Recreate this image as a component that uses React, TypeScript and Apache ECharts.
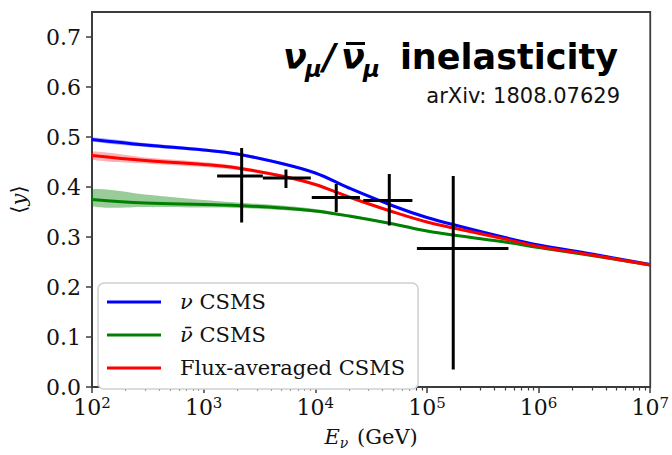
import { useEffect, useRef } from 'react';
import * as echarts from 'echarts';

// Neutrino energies (GeV) at which the CSMS predictions are sampled
const energies = [1e2, 3e2, 1e3, 2e3, 5e3, 1e4, 2e4, 5e4, 1e5, 2e5, 5e5, 1e6, 3e6, 1e7];

// ν CSMS mean inelasticity and its uncertainty band
const nuMean = [0.495, 0.484, 0.474, 0.466, 0.447, 0.428, 0.398, 0.362, 0.339, 0.321, 0.299, 0.284, 0.266, 0.245];
const nuLo = [0.491, 0.480, 0.471, 0.463, 0.444, 0.426, 0.396, 0.360, 0.338, 0.320, 0.298, 0.283, 0.265, 0.244];
const nuHi = [0.499, 0.488, 0.477, 0.469, 0.450, 0.430, 0.400, 0.364, 0.340, 0.322, 0.300, 0.285, 0.267, 0.246];

// ν̄ CSMS
const nubarMean = [0.375, 0.368, 0.365, 0.363, 0.358, 0.352, 0.342, 0.326, 0.312, 0.302, 0.290, 0.279, 0.263, 0.244];
const nubarLo = [0.362, 0.360, 0.359, 0.358, 0.354, 0.349, 0.340, 0.324, 0.311, 0.301, 0.289, 0.278, 0.262, 0.243];
const nubarHi = [0.395, 0.385, 0.374, 0.369, 0.363, 0.356, 0.345, 0.328, 0.314, 0.303, 0.291, 0.280, 0.264, 0.245];

// Flux-averaged CSMS
const fluxMean = [0.463, 0.453, 0.445, 0.438, 0.422, 0.405, 0.380, 0.350, 0.330, 0.315, 0.296, 0.281, 0.264, 0.244];
const fluxLo = [0.455, 0.447, 0.440, 0.434, 0.419, 0.402, 0.378, 0.348, 0.329, 0.314, 0.295, 0.280, 0.263, 0.243];
const fluxHi = [0.471, 0.459, 0.450, 0.442, 0.425, 0.408, 0.382, 0.352, 0.331, 0.316, 0.297, 0.282, 0.265, 0.245];

// Measured points: centre, energy bin edges, vertical error range
const pointE = [2190, 5460, 15400, 46000, 172000];
const pointY = [0.422, 0.418, 0.379, 0.373, 0.277];
const pointELo = [1320, 3390, 9300, 26900, 81300];
const pointEHi = [3390, 9120, 25100, 74100, 537000];
const pointYLo = [0.329, 0.398, 0.350, 0.323, 0.035];
const pointYHi = [0.478, 0.435, 0.406, 0.426, 0.422];

const xTicks = [1e2, 1e3, 1e4, 1e5, 1e6, 1e7];
const yTicks = [0, 0.1, 0.2, 0.3, 0.4, 0.5, 0.6, 0.7];

const minorXTicks: number[] = [];
for (let d = 2; d < 7; d++) {
  for (let m = 2; m <= 9; m++) minorXTicks.push(m * Math.pow(10, d));
}

const SERIF = '"DejaVu Serif", "Liberation Serif", serif';
const SPINE = '#3c3c3c';

const pairs = (ys: number[]) => energies.map((e, i) => [e, ys[i]]);

// Shaded uncertainty band: one filled polygon running along the upper
// edge and back along the lower edge, placed through the axis scales.
function bandSeries(key: string, lo: number[], hi: number[], color: string) {
  return {
    name: key + '-band',
    type: 'custom',
    data: energies.map((e, i) => [e, lo[i], hi[i]]),
    encode: { x: 0, y: [1, 2] },
    silent: true,
    clip: true,
    z: 1,
    renderItem: (params: any, api: any) => {
      if (params.dataIndex !== 0) return null;
      const upper = energies.map((e, i) => api.coord([e, hi[i]]));
      const lower = energies.map((e, i) => api.coord([e, lo[i]])).reverse();
      return {
        type: 'polygon',
        shape: { points: upper.concat(lower), smooth: 0.25 },
        style: { fill: color },
      };
    },
  };
}

function meanSeries(name: string, ys: number[], color: string) {
  return {
    name,
    type: 'line',
    data: pairs(ys),
    smooth: 0.4,
    symbol: 'none',
    color,
    lineStyle: { color, width: 3 },
    z: 3,
  };
}

export default function App() {
  const ref = useRef<HTMLDivElement>(null);

  useEffect(() => {
    if (!ref.current) return;
    const chart = echarts.init(ref.current, undefined, { renderer: 'svg' });

    const errData = pointE.map((e, i) => [e, pointY[i], pointELo[i], pointEHi[i], pointYLo[i], pointYHi[i]]);

    chart.setOption({
      animation: false,
      backgroundColor: '#fff',
      grid: {
        left: 85,
        right: 20,
        top: 12,
        bottom: 55,
        show: true,
        borderColor: SPINE,
        borderWidth: 1.8,
        backgroundColor: 'transparent',
      },
      xAxis: [
        {
          type: 'log',
          logBase: 10,
          min: 1e2,
          max: 1e7,
          name: '{i|E}{sub|ν} (GeV)',
          nameLocation: 'middle',
          nameGap: 37,
          nameTextStyle: {
            fontFamily: SERIF,
            fontSize: 21,
            color: '#111',
            rich: {
              i: { fontFamily: SERIF, fontSize: 21, fontStyle: 'italic', color: '#111' },
              sub: { fontFamily: SERIF, fontSize: 14, fontStyle: 'italic', color: '#111', padding: [12, 2, 0, 0], verticalAlign: 'top' },
            },
          },
          axisLine: { show: true, lineStyle: { color: SPINE, width: 1.8 } },
          axisTick: { show: true, length: 6, customValues: xTicks, lineStyle: { color: SPINE, width: 1.5 } },
          axisLabel: {
            customValues: xTicks,
            margin: 8,
            color: '#111',
            fontFamily: SERIF,
            fontSize: 22,
            formatter: (v: number) => `{b|10}{s|${Math.round(Math.log10(v))}}`,
            rich: {
              b: { fontFamily: SERIF, fontSize: 22, color: '#111' },
              s: { fontFamily: SERIF, fontSize: 15, color: '#111', verticalAlign: 'top', padding: [0, 0, 10, 0] },
            },
          },
          splitLine: { show: false },
        },
        {
          type: 'log',
          logBase: 10,
          min: 1e2,
          max: 1e7,
          position: 'bottom',
          axisLine: { show: false },
          axisTick: { show: true, length: 3.5, customValues: minorXTicks, lineStyle: { color: SPINE, width: 1.2 } },
          axisLabel: { show: false },
          splitLine: { show: false },
        },
      ],
      yAxis: {
        type: 'value',
        min: 0,
        max: 0.75,
        name: '⟨{i|y}⟩',
        nameLocation: 'middle',
        nameGap: 63,
        nameRotate: 90,
        nameTextStyle: {
          fontFamily: SERIF,
          fontSize: 21,
          color: '#111',
          rich: { i: { fontFamily: SERIF, fontSize: 21, fontStyle: 'italic', color: '#111' } },
        },
        axisLine: { show: true, lineStyle: { color: SPINE, width: 1.8 } },
        axisTick: { show: true, length: 6, customValues: yTicks, lineStyle: { color: SPINE, width: 1.5 } },
        axisLabel: {
          customValues: yTicks,
          margin: 11,
          color: '#111',
          fontFamily: SERIF,
          fontSize: 22,
          formatter: (v: number) => v.toFixed(1),
        },
        splitLine: { show: false },
      },
      legend: {
        data: ['ν CSMS', 'ν̄ CSMS', 'Flux-averaged CSMS'],
        orient: 'vertical',
        left: 98,
        top: 283,
        icon: 'rect',
        itemWidth: 54,
        itemHeight: 3,
        itemGap: 11,
        selectedMode: false,
        backgroundColor: '#fff',
        borderColor: '#cfcfcf',
        borderWidth: 1.5,
        borderRadius: 6,
        padding: [8, 13, 10, 9],
        formatter: (name: string) => {
          if (name === 'ν CSMS') return '{g|}{i|ν} CSMS';
          if (name === 'ν̄ CSMS') return '{g|}{i|ν̄} CSMS';
          return '{g|}' + name;
        },
        textStyle: {
          fontFamily: SERIF,
          fontSize: 21,
          color: '#111',
          lineHeight: 22,
          rich: {
            g: { width: 14 },
            i: { fontFamily: SERIF, fontSize: 21, fontStyle: 'italic', color: '#111' },
          },
        },
      },
      graphic: [
        // ν_μ / ν̄_μ
        { type: 'text', x: 283, y: 57, silent: true, style: { text: 'ν', font: 'italic bold 35px "DejaVu Sans"', fill: '#000', textVerticalAlign: 'middle' } },
        { type: 'text', x: 305, y: 69, silent: true, style: { text: 'μ', font: 'italic bold 23px "DejaVu Sans"', fill: '#000', textVerticalAlign: 'middle' } },
        { type: 'text', x: 323, y: 57, silent: true, style: { text: '/', font: 'italic bold 35px "DejaVu Sans"', fill: '#000', textVerticalAlign: 'middle' } },
        { type: 'text', x: 341, y: 57, silent: true, style: { text: 'ν', font: 'italic bold 35px "DejaVu Sans"', fill: '#000', textVerticalAlign: 'middle' } },
        { type: 'rect', silent: true, shape: { x: 346, y: 42, width: 19, height: 3 }, style: { fill: '#000' } },
        { type: 'text', x: 363, y: 69, silent: true, style: { text: 'μ', font: 'italic bold 23px "DejaVu Sans"', fill: '#000', textVerticalAlign: 'middle' } },
        { type: 'text', x: 618, y: 57, silent: true, style: { text: 'inelasticity', font: 'bold 35px "DejaVu Sans"', fill: '#000', textAlign: 'right', textVerticalAlign: 'middle' } },
        { type: 'text', x: 620, y: 96, silent: true, style: { text: 'arXiv: 1808.07629', font: '21px "DejaVu Sans"', fill: '#111', textAlign: 'right', textVerticalAlign: 'middle' } },
      ],
      series: [
        bandSeries('nu', nuLo, nuHi, 'rgba(0,0,255,0.3)'),
        bandSeries('nubar', nubarLo, nubarHi, 'rgba(0,128,0,0.4)'),
        bandSeries('flux', fluxLo, fluxHi, 'rgba(255,0,0,0.3)'),
        meanSeries('ν CSMS', nuMean, '#0000ff'),
        meanSeries('ν̄ CSMS', nubarMean, '#008000'),
        meanSeries('Flux-averaged CSMS', fluxMean, '#ff0000'),
        {
          name: 'data',
          type: 'custom',
          data: errData,
          encode: { x: 0, y: 1 },
          z: 5,
          renderItem: (_p: any, api: any) => {
            const x = api.value(0);
            const y = api.value(1);
            const l = api.coord([api.value(2), y]);
            const r = api.coord([api.value(3), y]);
            const t = api.coord([x, api.value(5)]);
            const b = api.coord([x, api.value(4)]);
            const st = { stroke: '#000', lineWidth: 3 };
            return {
              type: 'group',
              children: [
                { type: 'line', shape: { x1: l[0], y1: l[1], x2: r[0], y2: r[1] }, style: st },
                { type: 'line', shape: { x1: t[0], y1: t[1], x2: b[0], y2: b[1] }, style: st },
              ],
            };
          },
        },
      ],
    });

    return () => chart.dispose();
  }, []);

  return <div ref={ref} style={{ width: 672, height: 455, position: 'absolute', left: 0, top: 0 }} />;
}
